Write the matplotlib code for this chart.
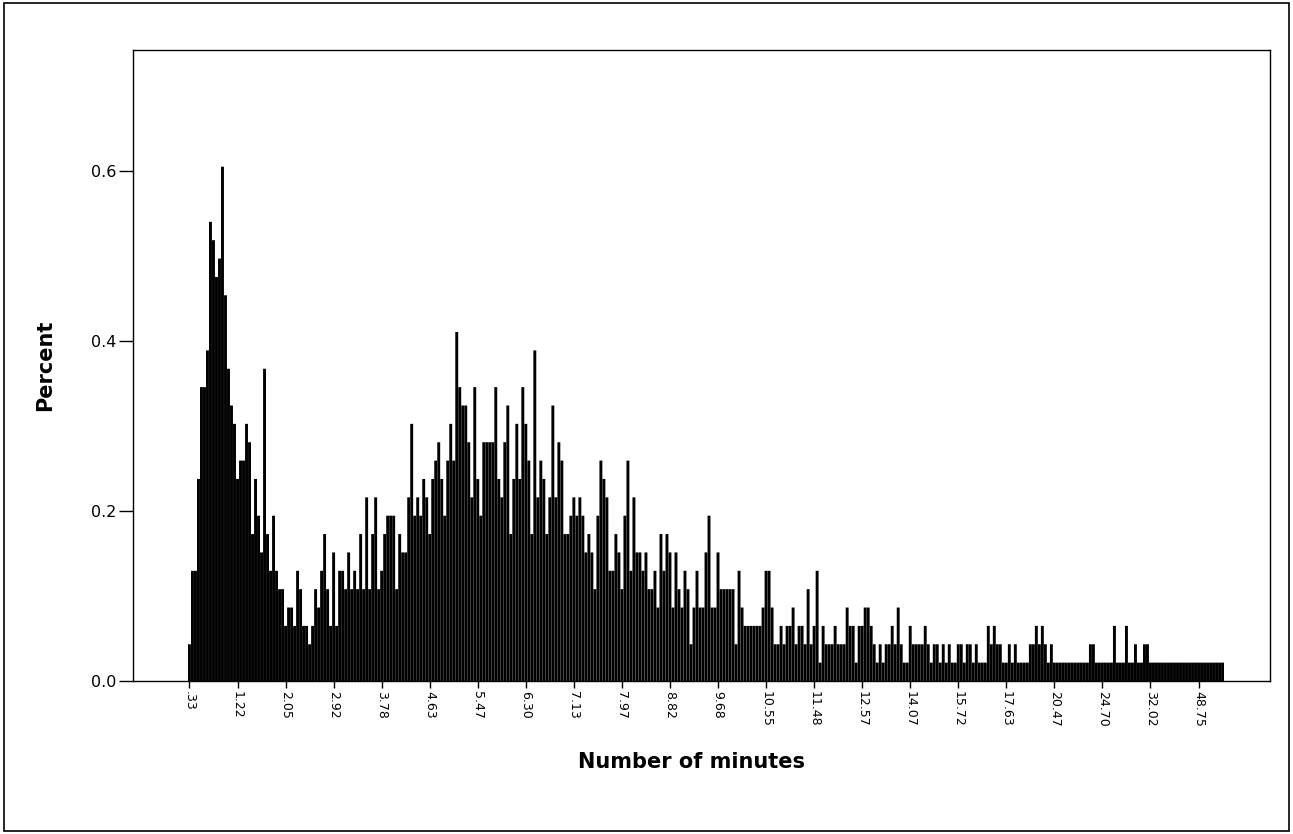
import numpy as np
import matplotlib
matplotlib.use('Agg')
import matplotlib.pyplot as plt

# cases per distinct value (one bar per value, left to right)
case_counts = [
    2, 6, 6, 11, 16, 16, 18, 25, 24, 22, 23, 28, 21, 17, 15, 14,
    11, 12, 12, 14, 13, 8, 11, 9, 7, 17, 8, 6, 9, 6, 5, 5,
    3, 4, 4, 3, 6, 5, 3, 3, 2, 3, 5, 4, 6, 8, 5, 3,
    7, 3, 6, 6, 5, 7, 5, 6, 5, 8, 5, 10, 5, 8, 10, 5,
    6, 8, 9, 9, 9, 5, 8, 7, 7, 10, 14, 9, 10, 9, 11, 10,
    8, 11, 12, 13, 11, 9, 12, 14, 12, 19, 16, 15, 15, 13, 10, 16,
    11, 9, 13, 13, 13, 13, 16, 11, 10, 13, 15, 8, 11, 14, 11, 16,
    14, 12, 8, 18, 10, 12, 11, 8, 10, 15, 10, 13, 12, 8, 8, 9,
    10, 9, 10, 9, 7, 8, 7, 5, 9, 12, 11, 10, 6, 6, 8, 7,
    5, 9, 12, 6, 10, 7, 7, 6, 7, 5, 5, 6, 4, 8, 6, 8,
    7, 4, 7, 5, 4, 6, 5, 2, 4, 6, 4, 4, 7, 9, 4, 4,
    7, 5, 5, 5, 5, 5, 2, 6, 4, 3, 3, 3, 3, 3, 3, 4,
    6, 6, 4, 2, 2, 3, 2, 3, 3, 4, 2, 3, 3, 2, 5, 2,
    3, 6, 1, 3, 2, 2, 2, 3, 2, 2, 2, 4, 3, 3, 1, 3,
    3, 4, 4, 3, 2, 1, 2, 1, 2, 2, 3, 2, 4, 2, 1, 1,
    3, 2, 2, 2, 2, 3, 2, 1, 2, 2, 1, 2, 1, 2, 1, 1,
    2, 2, 1, 2, 2, 1, 2, 1, 1, 1, 3, 2, 3, 2, 2, 1,
    1, 2, 1, 2, 1, 1, 1, 1, 2, 2, 3, 2, 3, 2, 1, 2,
    1, 1, 1, 1, 1, 1, 1, 1, 1, 1, 1, 1, 2, 2, 1, 1,
    1, 1, 1, 1, 3, 1, 1, 1, 3, 1, 1, 2, 1, 1, 2, 2,
    1, 1, 1, 1, 1, 1, 1, 1, 1, 1, 1, 1, 1, 1, 1, 1,
    1, 1, 1, 1, 1, 1, 1, 1, 1,
]
total_cases = 4630

# every 16th category is labelled on the axis
tick_step = 16
tick_labels = ['.33', '1.22', '2.05', '2.92', '3.78', '4.63', '5.47', '6.30',
               '7.13', '7.97', '8.82', '9.68', '10.55', '11.48', '12.57', '14.07',
               '15.72', '17.63', '20.47', '24.70', '32.02', '48.75']

percent = np.array(case_counts) * 100.0 / total_cases
positions = np.arange(len(percent))

fig = plt.figure(figsize=(12.93, 8.34), dpi=100)
ax = fig.add_axes([133 / 1293, 153 / 834, (1270 - 133) / 1293, (784 - 153) / 834])

# snap off so the hairline gaps between bars render evenly
ax.bar(positions, percent, width=0.97, color='black', linewidth=0, snap=False)

ax.set_xlim(-18.8, 359.8)
ax.set_ylim(0, 0.742)
ax.set_yticks([0.0, 0.2, 0.4, 0.6])
ax.set_yticklabels(['0.0', '0.2', '0.4', '0.6'])
ax.set_xticks(positions[::tick_step][:len(tick_labels)])
ax.set_xticklabels(tick_labels, rotation=-90)

ax.tick_params(axis='y', length=10, width=1, pad=2, labelsize=11.5)
ax.tick_params(axis='x', length=5, width=1, pad=2, labelsize=9)
for sp in ax.spines.values():
    sp.set_linewidth(1)

fig.text(45 / 1293, 1 - 365 / 834, 'Percent', rotation=90, ha='center', va='center',
         fontsize=15, fontweight='bold')
fig.text(691 / 1293, 1 - 762 / 834, 'Number of minutes', ha='center', va='center',
         fontsize=15, fontweight='bold')

# frame round the whole picture
fig.add_artist(plt.Rectangle((0.003, 0.004), 0.994, 0.992, transform=fig.transFigure,
                             fill=False, lw=1.2, ec='black'))

plt.savefig('out.png', dpi=100)
